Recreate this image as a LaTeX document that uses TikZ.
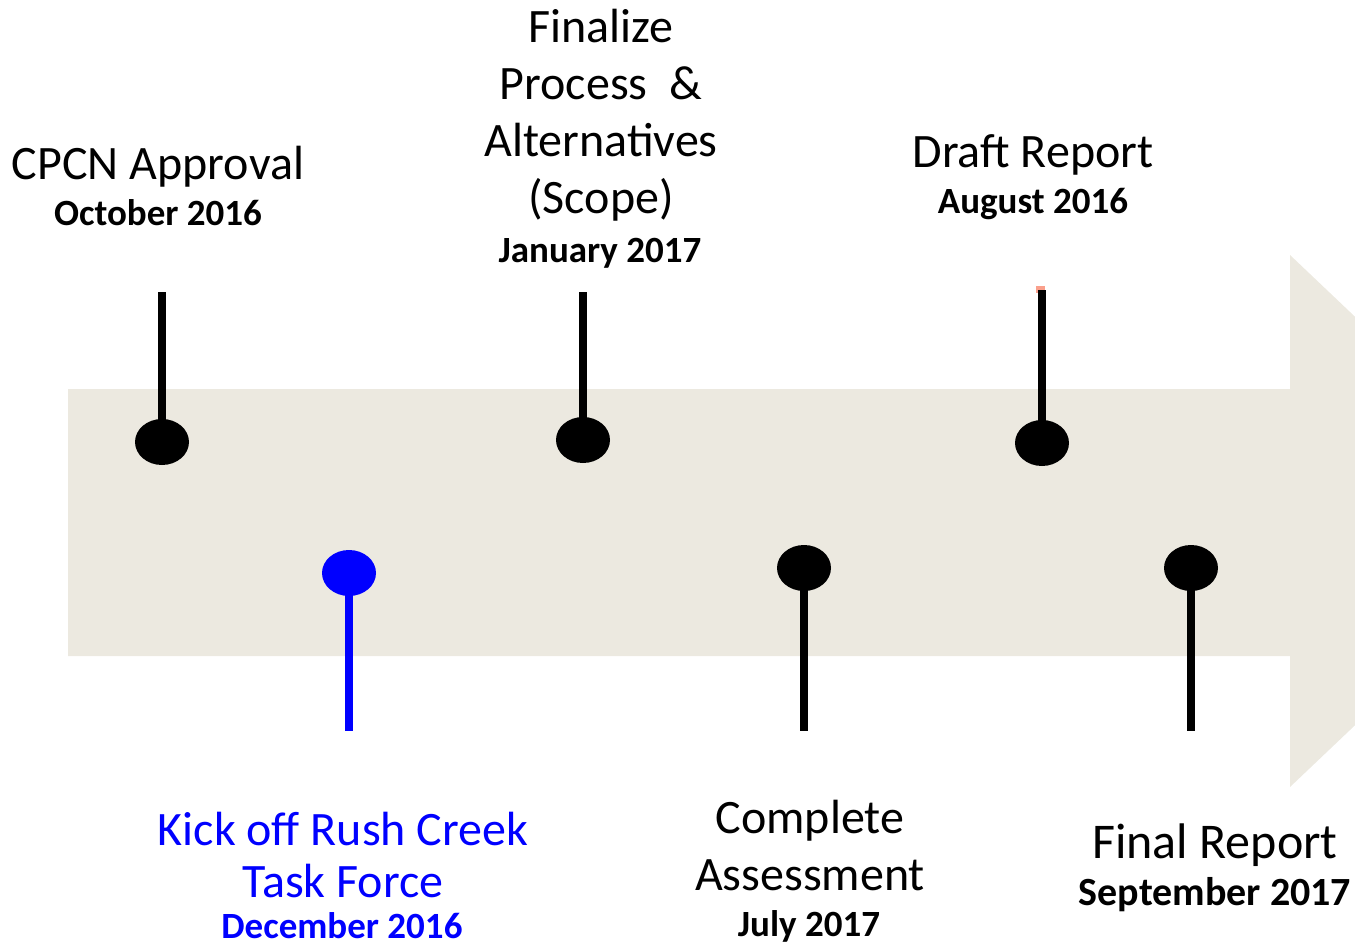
\documentclass[tikz,border=0pt]{standalone}
\usepackage{fontspec}
\setmainfont{Carlito}
\definecolor{band}{RGB}{236,233,224}
\definecolor{pinkmark}{RGB}{250,160,140}
\definecolor{kick}{RGB}{0,0,255}
\usetikzlibrary{shapes.geometric}
\tikzset{
  main/.style={inner sep=0pt, anchor=base, align=center, font=\fontsize{48}{57}\selectfont},
  date/.style={inner sep=0pt, anchor=base, align=center, font=\fontsize{37}{44}\selectfont\bfseries},
  dot/.style={ellipse, minimum width=54pt, minimum height=46pt, inner sep=0pt, fill=black},
  stem/.style={line width=7.5pt, black},
}
\begin{document}
\begin{tikzpicture}[x=1pt,y=-1pt]
\useasboundingbox (0,0) rectangle (1355,944);
\clip (0,0) rectangle (1355,944);
% band arrow
\fill[band] (68,389) -- (1290,389) -- (1290,255) -- (1570,521) -- (1290,787) -- (1290,656) -- (68,656) -- cycle;
% pink mark
\fill[pinkmark] (1036,286) rectangle (1045,293);
% top milestones
\coordinate (t1) at (162,292);
\coordinate (t2) at (583,292);
\coordinate (t3) at (1042,290);
\node[dot] (d1) at (162,442) {};
\node[dot] (d2) at (583,440) {};
\node[dot] (d3) at (1042,443) {};
\draw[stem] (t1) -- (d1.center);
\draw[stem] (t2) -- (d2.center);
\draw[stem] (t3) -- (d3.center);
% bottom milestones
\coordinate (b1) at (349,731);
\coordinate (b2) at (804,731);
\coordinate (b3) at (1191,731);
\node[dot, fill=kick] (e1) at (349,573) {};
\node[dot] (e2) at (804,568) {};
\node[dot] (e3) at (1191,568) {};
\draw[stem, kick] (e1.center) -- (b1);
\draw[stem] (e2.center) -- (b2);
\draw[stem] (e3.center) -- (b3);
% labels (base anchor = baseline of last line)
\node[main] (l1) at (158,180) {CPCN Approval};
\node[date] (l1d) at (158,226) {October 2016};
\node[main] (l2) at (601,214) {Finalize\\Process~~\&\\Alternatives\\(Scope)};
\node[date] (l2d) at (600,262) {January 2017};
\node[main] (l3) at (1033,168) {Draft Report};
\node[date] (l3d) at (1033,214) {August 2016};
\node[main, text=kick, font=\fontsize{48}{52}\selectfont] (l4) at (343,897) {Kick off Rush Creek\\Task Force};
\node[date, text=kick] (l4d) at (342,938) {December 2016};
\node[main] (l5) at (810,890) {Complete\\Assessment};
\node[date] (l5d) at (809,936) {July 2017};
\node[main, font=\fontsize{50}{60}\selectfont] (l6) at (1215,858) {Final Report};
\node[date, font=\fontsize{40}{48}\selectfont\bfseries] (l6d) at (1215,905) {September 2017};
\end{tikzpicture}
\end{document}
